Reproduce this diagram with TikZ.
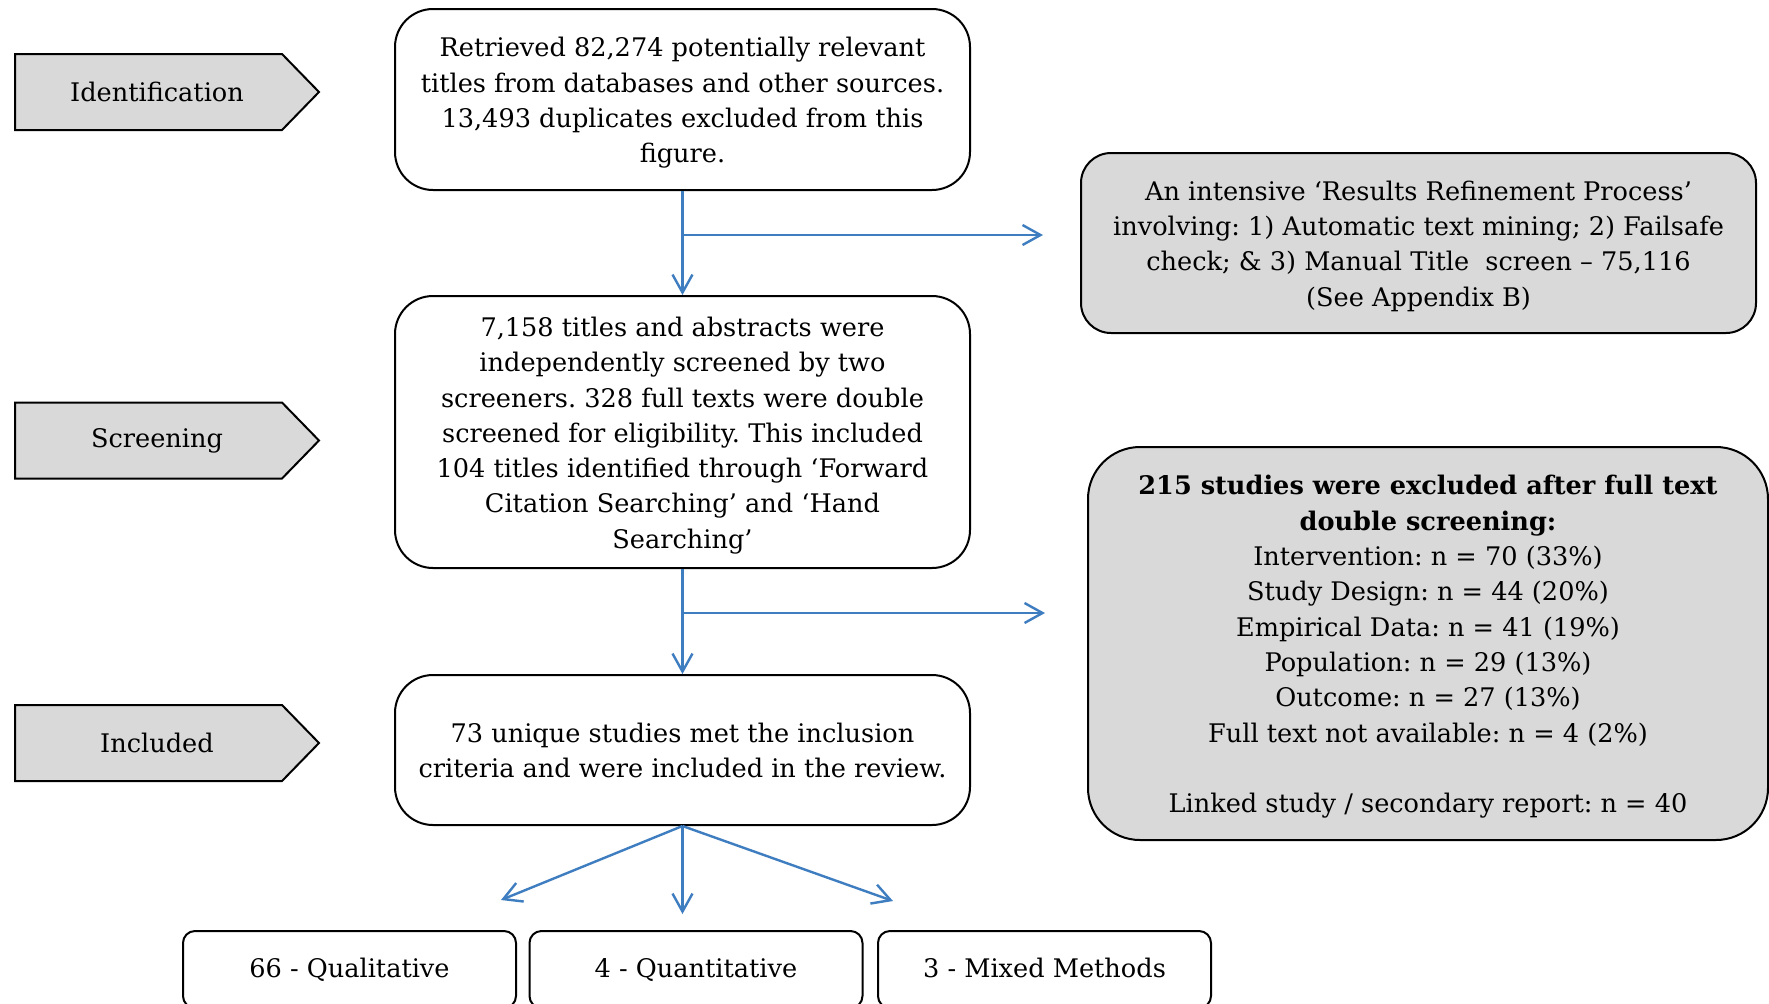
\documentclass[tikz,border=0pt]{standalone}
\usepackage{fontspec}
\setmainfont{DejaVu Serif}
\usetikzlibrary{arrows.meta}
\frenchspacing

\definecolor{flowblue}{RGB}{62,125,192}
\definecolor{panelgray}{RGB}{217,217,217}
\newcommand\flowfont{\fontsize{12.8}{17.65}\selectfont}
% fixed height and depth for first and last lines, so every block centres alike
\newcommand\linestrut{\rule[-3.2pt]{0pt}{16.7pt}}
\newcommand\leafstrut{\rule[-3.2pt]{0pt}{13.9pt}}

\tikzset{
  card/.style={draw=black, line width=1pt, inner sep=0pt, align=center, font=\flowfont},
  mainbox/.style={card, fill=white, minimum width=287.5pt, rounded corners=19pt},
  notebox/.style={card, fill=panelgray},
  leafbox/.style={card, fill=white, minimum width=166.5pt, minimum height=38.5pt, rounded corners=6pt},
  flow/.style={draw=flowblue, line width=1.2pt, -{Straight Barb[length=9pt,width=10pt]}},
  stage/.pic={
    \draw[draw=black, line width=1pt, fill=panelgray]
      (0,-38) -- (267,-38) -- (304,0) -- (267,38) -- (0,38) -- cycle;
    \node[font=\flowfont, inner sep=0pt] (-label) at (142,0) {#1};
  },
}

\begin{document}
\begin{tikzpicture}[x=0.5pt, y=-0.5pt]
  \clip (0,0) rectangle (1769,1003);
  \fill[white] (0,0) rectangle (1769,1003);

  % stage markers on the left
  \pic (idf) at (15,92) {stage={Identification}};
  \pic (scr) at (15,440.5) {stage={Screening}};
  \pic (inc) at (15,743) {stage={Included}};

  % main flow
  \node[mainbox, minimum height=90.5pt] (b1) at (682.5,99.5)
    {\linestrut Retrieved 82,274 potentially relevant\\
     titles from databases and other sources.\\
     13,493 duplicates excluded from this\\
     figure.\linestrut};
  \node[mainbox, minimum height=136pt] (b2) at (682.5,432)
    {\linestrut 7,158 titles and abstracts were\\
     independently screened by two\\
     screeners. 328 full texts were double\\
     screened for eligibility. This included\\
     104 titles identified through ‘Forward\\
     Citation Searching’ and ‘Hand\\
     Searching’\linestrut};
  \node[mainbox, minimum height=75pt] (b3) at (682.5,750)
    {\linestrut 73 unique studies met the inclusion\\
     criteria and were included in the review.\linestrut};

  % exclusion notes
  \node[notebox, minimum width=337.5pt, minimum height=90pt, rounded corners=15pt] (r1) at (1418.5,243)
    {\linestrut An intensive ‘Results Refinement Process’\\
     involving: 1) Automatic text mining; 2) Failsafe\\
     check; \& 3) Manual Title\ \ screen – 75,116\\
     (See Appendix B)\linestrut};
  \node[notebox, minimum width=340pt, minimum height=196.5pt, rounded corners=26pt] (r2) at (1428,643.5)
    {\linestrut\textbf{215 studies were excluded after full text}\\
     \textbf{double screening:}\\
     Intervention: n = 70 (33\%)\\
     Study Design: n = 44 (20\%)\\
     Empirical Data: n = 41 (19\%)\\
     Population: n = 29 (13\%)\\
     Outcome: n = 27 (13\%)\\
     Full text not available: n = 4 (2\%)\\[17.65pt]
     Linked study / secondary report: n = 40\linestrut};

  % study designs
  \node[leafbox] (q1) at (349.5,969.5) {\leafstrut 66 - Qualitative};
  \node[leafbox] (q2) at (696,969.5) {\leafstrut 4 - Quantitative};
  \node[leafbox] (q3) at (1044.5,969.5) {\leafstrut 3 - Mixed Methods};

  % connectors
  \coordinate (j1) at (682.5,235);
  \coordinate (e1) at (1043,235);
  \coordinate (j2) at (682.5,613);
  \coordinate (e2) at (1045,613);
  \coordinate (t1) at (501,900);
  \coordinate (t2) at (682.5,914);
  \coordinate (t3) at (893,901);

  \draw[flow] (b1.south) -- (b2.north);
  \draw[flow] (j1) -- (e1);
  \draw[flow] (b2.south) -- (b3.north);
  \draw[flow] (j2) -- (e2);
  \draw[flow] (b3.south) -- (t1);
  \draw[flow] (b3.south) -- (t2);
  \draw[flow] (b3.south) -- (t3);
\end{tikzpicture}
\end{document}
